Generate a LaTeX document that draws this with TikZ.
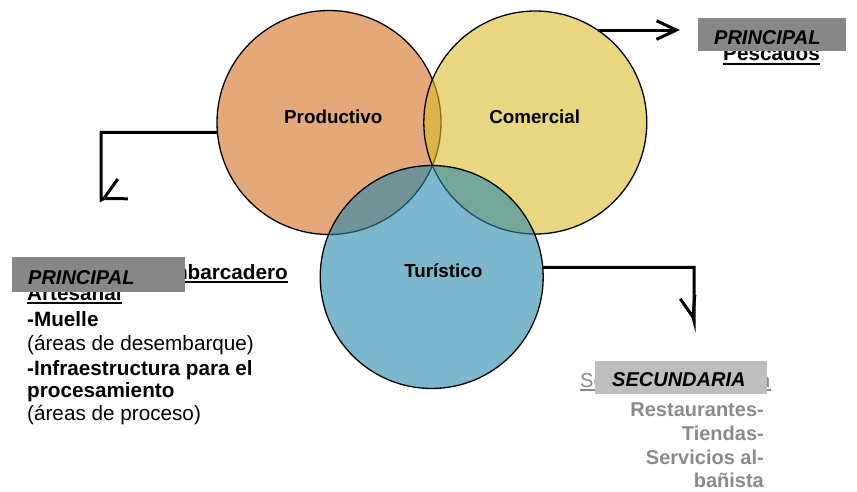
\documentclass[tikz,border=0pt]{standalone}
\usepackage{fontspec}
\setmainfont{Liberation Sans}
\usetikzlibrary{arrows.meta}
\definecolor{prodC}{RGB}{210,110,33}
\definecolor{comC}{RGB}{217,187,43}
\definecolor{turC}{RGB}{38,135,172}
\definecolor{darkbox}{RGB}{135,135,135}
\definecolor{lightbox}{RGB}{190,190,190}
\definecolor{graytext}{RGB}{138,138,138}
\begin{document}
\begin{tikzpicture}[x=1pt,y=-1pt,
  venn/.style={circle, inner sep=0pt, outer sep=0pt, draw=black, line width=1.3pt, fill opacity=0.6},
  vlabel/.style={font=\fontsize{18.8}{22}\selectfont\bfseries, anchor=base, inner sep=0pt},
  body/.style={font=\fontsize{20.7}{24}\selectfont, inner sep=0pt, anchor=base west},
  bodyb/.style={body, font=\fontsize{20.7}{24}\selectfont\bfseries},
  bodyr/.style={font=\fontsize{20}{24}\selectfont\bfseries, text=graytext, inner sep=0pt, anchor=base east},
  tagbox/.style={inner sep=0pt, outer sep=0pt, anchor=north west},
  tagtext/.style={font=\fontsize{20}{24}\selectfont\bfseries\itshape, inner sep=0pt, anchor=base west},
  conn/.style={line width=3pt, black},
  ul/.style={line width=1.8pt},
]
\useasboundingbox (0,0) rectangle (857,492);

% circles
\node[venn, fill=prodC, minimum size=224pt] (prod) at (329,122.5) {};
\node[venn, fill=comC, minimum size=223pt] (com) at (535.3,122.5) {};
\node[venn, fill=turC, minimum size=223pt] (tur) at (431.7,277) {};
\node[vlabel] (prodl) at (333.3,124) {Productivo};
\node[vlabel] (coml) at (534.7,124) {Comercial};
\node[vlabel] (turl) at (443.3,277) {Turístico};

% connectors
\coordinate (ltip) at (101,200);
\coordinate (pesc) at (680,29);
\coordinate (ttip) at (694,321);
\draw[conn, -{Straight Barb[angle=55:24pt]}] (prod.185) -| (ltip) -- ++(207:0.1pt);
\draw[conn, -{Straight Barb[angle=50:22pt]}] (com.56) -- (com.56 -| pesc);
\draw[conn, -{Straight Barb[angle=40:22pt]}] (tur.5) -| (ttip) -- ++(285:0.1pt);

% top right text
\node[bodyb] (pescados) at (723,61) {Pescados};
\draw[ul] ([yshift=-3.3pt]pescados.base west) -- ([yshift=-3.3pt]pescados.base east);

% left text block
\node[bodyb, anchor=base east] (l1) at (288,279) {Desembarcadero};
\node[bodyb] (l2) at (27,300) {Artesanal};
\draw[ul] ([yshift=-3.3pt]l1.base west) -- ([yshift=-3.3pt]l1.base east);
\draw[ul] ([yshift=-3.3pt]l2.base west) -- ([yshift=-3.3pt]l2.base east);
\node[bodyb] (l3) at (27,326.5) {-Muelle};
\node[body] (l4) at (27,350.5) {(áreas de desembarque)};
\node[bodyb] (l5) at (27,375) {-Infraestructura para el};
\node[bodyb] (l6) at (27,397) {procesamiento};
\node[body] (l7) at (27,420) {(áreas de proceso)};

% bottom right text block
\node[body, font=\fontsize{20}{24}\selectfont, text=graytext] (r0) at (580,387) {Servicios de atención};
\draw[ul, graytext] ([yshift=-3.3pt]r0.base west) -- ([yshift=-3.3pt]r0.base east);
\node[bodyr] (r1) at (764,416) {Restaurantes-};
\node[bodyr] (r2) at (764,440) {Tiendas-};
\node[bodyr] (r3) at (764,464) {Servicios al-};
\node[bodyr] (r4) at (764,487.5) {bañista};

% tag boxes
\node[tagbox, fill=darkbox, minimum width=148pt, minimum height=33pt] (tagA) at (698,18) {};
\node[tagtext] (tagAt) at (714,44.3) {PRINCIPAL};
\node[tagbox, fill=darkbox, minimum width=173pt, minimum height=35pt] (tagB) at (12,257) {};
\node[tagtext] (tagBt) at (28,284) {PRINCIPAL};
\node[tagbox, fill=lightbox, minimum width=172pt, minimum height=33pt] (tagC) at (595,361) {};
\node[tagtext] (tagCt) at (612,386.7) {SECUNDARIA};
\end{tikzpicture}
\end{document}
